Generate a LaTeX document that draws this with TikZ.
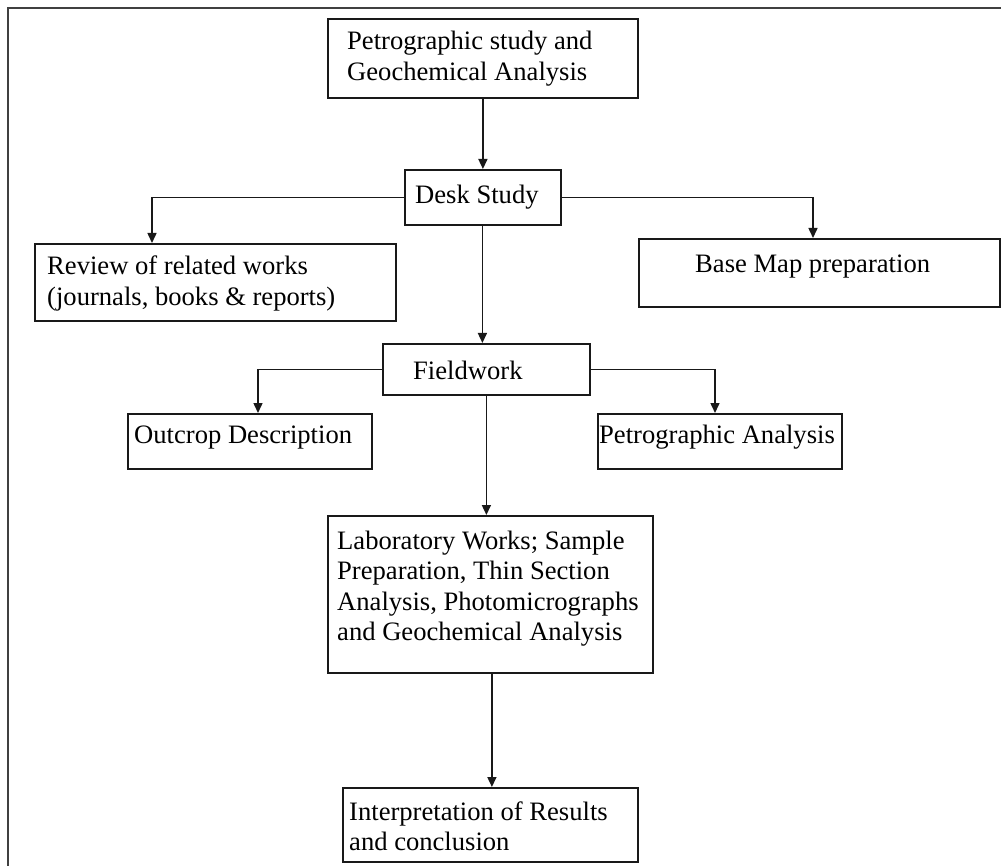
\documentclass[tikz,border=0pt]{standalone}
\usepackage{fontspec}
\setmainfont{Liberation Serif}
\usetikzlibrary{arrows.meta}
\begin{document}
\begin{tikzpicture}[x=1pt,y=-1pt,
  box/.style={draw=black!90, line width=1.8pt, inner sep=0pt, anchor=north west},
  txt/.style={anchor=base west, align=left, inner sep=0pt, font=\fontsize{26.6}{30.5}\selectfont},
  arr/.style={draw=black!90, line width=1.5pt, -{Triangle[length=10pt,width=9pt]}},
  frame/.style={draw=black!75, line width=2.8pt}]
\useasboundingbox (0,0) rectangle (1001,866);
\clip (0,0) rectangle (1001,866);
\draw[frame] (8,8) rectangle (1030,900);
% boxes
\node[box, minimum width=310pt, minimum height=79pt] (petro) at (327,18) {};
\node[box, minimum width=156pt, minimum height=55pt] (desk) at (404,169) {};
\node[box, minimum width=361pt, minimum height=77pt] (review) at (34,243) {};
\node[box, minimum width=361pt, minimum height=68pt] (base) at (638,238) {};
\node[box, minimum width=207pt, minimum height=51pt] (field) at (382,343) {};
\node[box, minimum width=244pt, minimum height=55pt] (outcrop) at (127,413) {};
\node[box, minimum width=244pt, minimum height=55pt] (petan) at (597,413) {};
\node[box, minimum width=325pt, minimum height=157pt] (lab) at (327,515) {};
\node[box, minimum width=295pt, minimum height=74pt] (interp) at (342,787) {};
% texts (multi-line nodes: base anchor = last line's baseline)
\node[txt] (petro-t) at (347,80.5) {Petrographic study and\\Geochemical Analysis};
\node[txt] (desk-t) at (415,204) {Desk Study};
\node[txt] (review-t) at (47,305.5) {Review of related works\\(journals, books \& reports)};
\node[txt] (base-t) at (695,273) {Base Map preparation};
\node[txt] (field-t) at (413,379) {Fieldwork};
\node[txt] (outcrop-t) at (134,443) {Outcrop Description};
\node[txt] (petan-t) at (599,443) {Petrographic Analysis};
\node[txt] (lab-t) at (337,640.5) {Laboratory Works; Sample\\Preparation, Thin Section\\Analysis, Photomicrographs\\and Geochemical Analysis};
\node[txt] (interp-t) at (349,850.5) {Interpretation of Results\\and conclusion};
% connectors
\draw[arr] (petro.south) -- (desk.north);
\draw[arr] (desk.west) -| ([xshift=118pt]review.north west);
\draw[arr] (desk.east) -| ([xshift=175pt]base.north west);
\draw[arr] ([xshift=-0.5pt]desk.south) -- ([xshift=-0.5pt]desk.south |- field.north);
\draw[arr] (field.west) -| ([xshift=131pt]outcrop.north west);
\draw[arr] (field.east) -| ([xshift=118pt]petan.north west);
\draw[arr] (field.south) -- (field.south |- lab.north);
\draw[arr] ([xshift=1.5pt]lab.south) -- ([xshift=1.5pt]interp.north);
\end{tikzpicture}
\end{document}
